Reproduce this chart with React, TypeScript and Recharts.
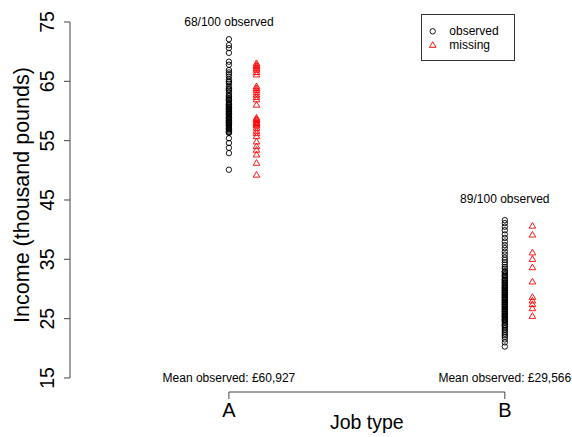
import React from 'react';
import {
  ScatterChart,
  Scatter,
  XAxis,
  YAxis,
  ReferenceLine,
  ReferenceDot,
  Legend,
} from 'recharts';

// job types on the x axis (A = 1, B = 2)
const jobTypes = ['A', 'B'];
const jobPositions = [1, 2];
const yTicks = [15, 25, 35, 45, 55, 65, 75];
const seriesNames = ['observed', 'missing'];
const meanLabels = ['Mean observed: £60,927', 'Mean observed: £29,566'];

// income, thousand pounds
const observedA = [
  72.1, 71.1, 70.6, 69.8, 68.3, 67.8,
  66.9, 66.5, 66.2, 65.8, 65.3, 65.0, 64.6, 64.1, 63.8, 63.4, 63.1, 62.7, 62.5, 62.2,
  61.9, 61.8, 61.5, 61.3, 61.1, 60.9, 60.7, 60.6, 60.4, 60.2, 60.0, 59.9, 59.7, 59.5,
  59.4, 59.2, 59.0, 58.9, 58.7, 58.5, 58.4, 58.2, 58.0, 57.9, 57.7, 57.5, 57.3, 57.1,
  56.9, 56.7, 56.5, 56.3, 64.9, 63.6, 62.0, 61.0, 60.3, 59.6, 58.8, 58.1, 57.6, 57.0, 56.4,
  55.4, 54.6, 53.8, 52.9, 50.1,
];
const missingA = [
  68.0, 67.7, 67.5, 67.2, 66.9, 66.5, 66.1, 64.1, 63.8, 63.5, 63.1, 62.7, 62.3, 61.9,
  61.0, 58.8, 58.6, 58.4, 58.1, 57.9, 57.7, 57.5, 57.1, 56.6, 56.2, 55.7, 54.8, 54.0,
  53.4, 52.6, 51.2, 49.2,
];
const observedB = [
  41.6, 41.1, 40.5, 39.9, 39.2, 38.6, 38.0, 37.4, 36.9, 36.3, 35.8, 35.3, 34.9, 34.5,
  34.1, 33.7, 33.4, 33.0, 32.7, 32.4, 32.1, 31.8, 31.6, 31.3, 31.0, 30.8, 30.5, 30.3,
  30.1, 29.9, 29.7, 29.5, 29.3, 29.1, 28.9, 28.7, 28.5, 28.3, 28.1, 27.9, 27.7, 27.5,
  27.3, 27.1, 26.9, 26.7, 26.5, 26.3, 26.1, 25.9, 25.7, 25.5, 25.3, 25.1, 24.9, 24.7,
  24.5, 24.3, 24.0, 23.7, 23.4, 23.1, 22.8, 22.5, 22.2, 21.9, 21.5, 21.0, 20.3,
  32.9, 32.2, 31.5, 31.1, 30.6, 30.2, 29.8, 29.4, 29.0, 28.6, 28.2, 27.8, 27.4, 27.0,
  26.6, 26.2, 25.8, 25.4, 24.8, 23.9,
];
const missingB = [40.6, 39.1, 36.1, 35.0, 33.6, 31.2, 28.6, 28.0, 27.4, 26.7, 25.4];

// where the "n/100 observed" note sits for each job type
const countLabelY = [75, 45.2];

const FONT = 'Liberation Sans, Arial, Helvetica, sans-serif';
const AXIS = '#444';
const offsetMissing = 0.1;

const toPoints = (vals: number[], job: number) => vals.map(v => ({ job, income: v }));

const obsData = [...toPoints(observedA, jobPositions[0]), ...toPoints(observedB, jobPositions[1])];
const missData = [
  ...toPoints(missingA, jobPositions[0] + offsetMissing),
  ...toPoints(missingB, jobPositions[1] + offsetMissing),
];
const totals = [observedA.length + missingA.length, observedB.length + missingB.length];
const observedCounts = [observedA.length, observedB.length];

const CircleShape = (props: any) => (
  <circle cx={props.cx} cy={props.cy} r={2.7} fill="none" stroke="#000" strokeWidth={0.9} />
);

const TriangleShape = (props: any) => {
  const { cx, cy } = props;
  return (
    <path
      d={`M${cx},${cy - 3.6} L${cx - 3.3},${cy + 2.1} L${cx + 3.3},${cy + 2.1} Z`}
      fill="none"
      stroke="#ff0000"
      strokeWidth={0.9}
    />
  );
};

const YTick = (props: any) => {
  const { x, y, payload } = props;
  return (
    <text
      x={x}
      y={y}
      transform={`rotate(-90, ${x}, ${y})`}
      textAnchor="middle"
      fontSize={19.5}
      fontFamily={FONT}
      fill="#000"
    >
      {payload.value}
    </text>
  );
};

const renderLegend = () => (
  <svg width={94} height={47} style={{ display: 'block' }}>
    <rect x={0.5} y={0.5} width={93} height={46} fill="#fff" stroke="#333" />
    <circle cx={11.7} cy={17.3} r={2.7} fill="none" stroke="#000" strokeWidth={0.9} />
    <text x={28.3} y={20.7} fontSize={12} fontFamily={FONT} fill="#000">
      {seriesNames[0]}
    </text>
    <path d="M11.7,27.7 L8.4,33.4 L15,33.4 Z" fill="none" stroke="#ff0000" strokeWidth={0.9} />
    <text x={28.3} y={35} fontSize={12} fontFamily={FONT} fill="#000">
      {seriesNames[1]}
    </text>
  </svg>
);

const App: React.FC = () => {
  return (
    <div style={{ position: 'absolute', left: 0, top: 0, background: '#fff' }}>
      <ScatterChart width={572} height={437} margin={{ top: 10, right: 12, bottom: 0, left: 0 }}>
        <XAxis
          type="number"
          dataKey="job"
          domain={[0.424, 2.2]}
          allowDataOverflow
          ticks={jobPositions}
          tickFormatter={(v: number) => jobTypes[jobPositions.indexOf(v)] ?? ''}
          axisLine={false}
          tickLine={{ stroke: AXIS }}
          tickSize={7}
          tickMargin={4}
          height={45}
          tick={{ fontSize: 20, fontFamily: FONT, fill: '#000' }}
        />
        <YAxis
          type="number"
          dataKey="income"
          domain={[12.64, 77.02]}
          allowDataOverflow
          ticks={yTicks}
          axisLine={false}
          tickLine={{ stroke: AXIS }}
          tickSize={6}
          tickMargin={10}
          width={70}
          tick={<YTick />}
          label={(p: any) => {
            const vb = p.viewBox || { x: 0, y: 10, width: 70, height: 382 };
            const lx = vb.x + 28.5;
            const ly = vb.y + vb.height / 2 - 6;
            return (
              <text
                x={lx}
                y={ly}
                transform={`rotate(-90, ${lx}, ${ly})`}
                textAnchor="middle"
                fontSize={21.5}
                fontFamily={FONT}
                fill="#000"
              >
                Income (thousand pounds)
              </text>
            );
          }}
        />
        <ReferenceLine
          segment={[{ x: jobPositions[0], y: 12.64 }, { x: jobPositions[1], y: 12.64 }]}
          stroke={AXIS}
          ifOverflow="visible"
        />
        <ReferenceLine
          segment={[{ x: 0.424, y: yTicks[0] }, { x: 0.424, y: yTicks[yTicks.length - 1] }]}
          stroke={AXIS}
          ifOverflow="visible"
        />
        <Scatter
          name={seriesNames[0]}
          data={obsData}
          shape={<CircleShape />}
          isAnimationActive={false}
        />
        <Scatter
          name={seriesNames[1]}
          data={missData}
          shape={<TriangleShape />}
          isAnimationActive={false}
        />
        {jobPositions.map((pos, i) => (
          <ReferenceDot
            key={`count-${i}`}
            x={pos}
            y={countLabelY[i]}
            r={0}
            fill="none"
            stroke="none"
            ifOverflow="visible"
            label={{
              value: `${observedCounts[i]}/${totals[i]} observed`,
              position: 'center',
              fontSize: 12,
              fontFamily: FONT,
              fill: '#000',
            }}
          />
        ))}
        {jobPositions.map((pos, i) => (
          <ReferenceDot
            key={`mean-${i}`}
            x={pos}
            y={yTicks[0]}
            r={0}
            fill="none"
            stroke="none"
            ifOverflow="visible"
            label={{
              value: meanLabels[i],
              position: 'center',
              fontSize: 12,
              fontFamily: FONT,
              fill: '#000',
            }}
          />
        ))}
        <ReferenceDot
          x={(jobPositions[0] + jobPositions[1]) / 2}
          y={7.52}
          r={0}
          fill="none"
          stroke="none"
          ifOverflow="visible"
          label={{ value: 'Job type', position: 'center', fontSize: 19.5, fontFamily: FONT, fill: '#000' }}
        />
        <Legend
          layout="vertical"
          align="center"
          verticalAlign="middle"
          content={renderLegend}
          wrapperStyle={{ left: 421, top: 14, width: 94, height: 47 }}
        />
      </ScatterChart>
    </div>
  );
};

export default App;
